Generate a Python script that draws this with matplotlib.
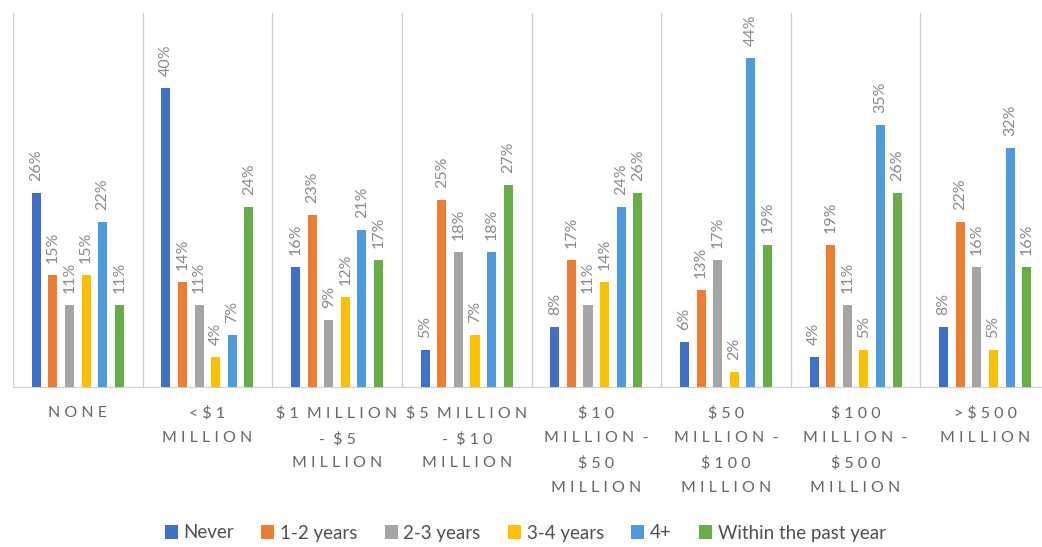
import matplotlib.pyplot as plt
from matplotlib.patches import Patch
from matplotlib.transforms import blended_transform_factory
import numpy as np

plt.rcParams['font.family'] = ['Lato', 'DejaVu Sans']

groups = ["NONE", "<$1\nMILLION", "$1 MILLION\n- $5\nMILLION", "$5 MILLION\n- $10\nMILLION",
          "$10\nMILLION -\n$50\nMILLION", "$50\nMILLION -\n$100\nMILLION",
          "$100\nMILLION -\n$500\nMILLION", ">$500\nMILLION"]
series = ["Never", "1-2 years", "2-3 years", "3-4 years", "4+", "Within the past year"]
never = [26, 40, 16, 5, 8, 6, 4, 8]
y1_2 = [15, 14, 23, 25, 17, 13, 19, 22]
y2_3 = [11, 11, 9, 18, 11, 17, 11, 16]
y3_4 = [15, 4, 12, 7, 14, 2, 5, 5]
y4plus = [22, 7, 21, 18, 24, 44, 35, 32]
past_year = [11, 24, 17, 27, 26, 19, 26, 16]
values = [never, y1_2, y2_3, y3_4, y4plus, past_year]
colors = ["#3f6fc6", "#ed7d31", "#a5a5a5", "#ffc000", "#4f9ade", "#68ad45"]


def spaced(label):
    # widen letter spacing like the original category axis
    lines = []
    for line in label.split("\n"):
        words = [" ".join(w) for w in line.split(" ")]
        lines.append("  ".join(words))
    return "\n".join(lines)


fig = plt.figure(figsize=(10.42, 5.47), dpi=100)
ax = fig.add_axes([13 / 1042, 1 - 387 / 547, (1050 - 13) / 1042, (387 - 13) / 547])

x = np.arange(len(groups))
step = 0.128
width = 0.07
for i, (vals, col) in enumerate(zip(values, colors)):
    pos = x + (i - 2.5) * step
    ax.bar(pos, vals, width=width, color=col, zorder=3)
    for px, v in zip(pos, vals):
        ax.annotate(f"{v}%", (px, v), xytext=(0, 12), textcoords="offset pixels",
                    rotation=90, ha="center", va="bottom", fontsize=11.5, color="#8a8a8a")

ax.set_xlim(-0.5, len(groups) - 0.5)
ax.set_ylim(0, 50)
ax.set_yticks([])
ax.set_xticks([])
for s in ["top", "right", "left"]:
    ax.spines[s].set_visible(False)
ax.spines["bottom"].set_color("#d0d0d0")

# separators between the groups
for b in np.arange(-0.5, len(groups), 1.0):
    ax.axvline(b, color="#d0d0d0", lw=1, zorder=1)

trans = blended_transform_factory(ax.transData, ax.transAxes)
for xi, g in zip(x, groups):
    ax.text(xi, -0.052, spaced(g), transform=trans, ha="center", va="top",
            fontsize=11.5, color="#666666", linespacing=1.93)

handles = [Patch(facecolor=c, edgecolor="none") for c in colors]
fig.legend(handles, series, loc="center", bbox_to_anchor=(0.504, 1 - 533 / 547), ncol=6,
           frameon=False, fontsize=13.5, handlelength=0.7, handleheight=0.7,
           handletextpad=0.3, columnspacing=1.45, labelcolor="#505050")

fig.savefig("out.png", dpi=100)
